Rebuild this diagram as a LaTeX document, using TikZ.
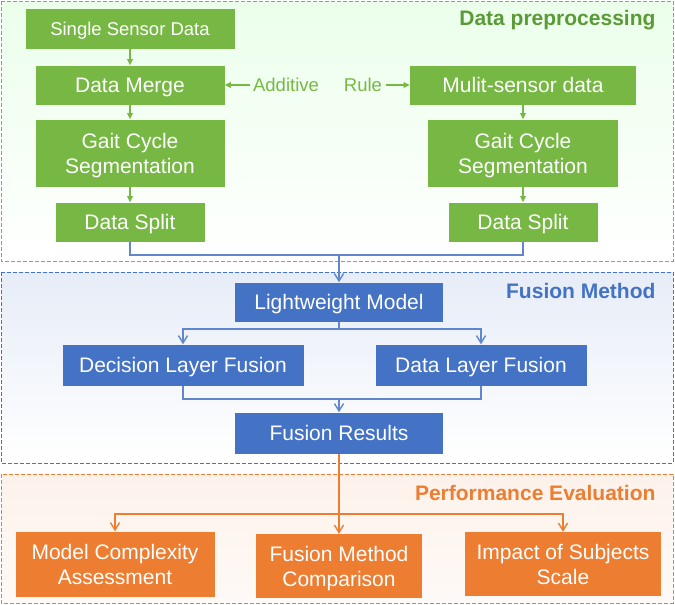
\documentclass[tikz,border=0pt]{standalone}
\usepackage{fontspec}
\setmainfont{Liberation Sans}
\usepackage{xcolor}
\usetikzlibrary{arrows.meta,positioning,calc}
\definecolor{grnfill}{HTML}{76B843}
\definecolor{grndark}{HTML}{5B9A36}
\definecolor{bluefill}{HTML}{4472C4}
\definecolor{orgfill}{HTML}{ED7D31}
\tikzset{
  gbox/.style   = {fill=grnfill, text=white, inner sep=0pt, align=center,
                   text depth=0pt, font=\fontsize{21}{25}\selectfont},
  bbox/.style   = {gbox, fill=bluefill},
  obox/.style   = {gbox, fill=orgfill},
  gsig/.style   = {-{Triangle[length=2.2mm,width=2mm]}, draw=grnfill, line width=1.2pt},
  bline/.style  = {draw=bluefill!85, line width=1.4pt},
  bsig/.style   = {bline, -{Straight Barb[length=2.6mm,width=3.2mm]}},
  osig/.style   = {draw=orgfill, line width=1.4pt, -{Straight Barb[length=2.6mm,width=3.2mm]}},
  region/.style = {dash pattern=on 4pt off 2pt, line width=1pt},
  title/.style  = {anchor=east, font=\bfseries\fontsize{21}{24}\selectfont},
}

\begin{document}
\begin{tikzpicture}[x=1pt,y=-1pt]
\useasboundingbox (0,0) rectangle (675,605);
% backgrounds
\shade[top color=green!8, bottom color=white] (1,1) rectangle (673,261);
\draw[region, draw=grnfill] (1,1) rectangle (673,261);
\shade[top color=bluefill!13, bottom color=white] (1,272) rectangle (673,463);
\draw[region, draw=bluefill] (1,272) rectangle (673,463);
\shade[top color=orgfill!10, bottom color=orgfill!4] (1,474) rectangle (673,603);
\draw[region, draw=orgfill] (1,474) rectangle (673,603);

\node[title, text=grndark] (t1) at (659,20) {Data preprocessing};
\node[title, text=bluefill] (t2) at (659,291) {Fusion Method};
\node[title, text=orgfill] (t3) at (659,493) {Performance Evaluation};

% data preprocessing
\node[gbox, minimum width=209, minimum height=40, font=\fontsize{18.5}{22}\selectfont] (ssd) at (130,29) {Single Sensor Data};
\node[gbox, minimum width=189, minimum height=39] (merge) at (130,85) {Data Merge};
\node[gbox, minimum width=189, minimum height=67] (gcl) at (130,153) {Gait Cycle\\Segmentation};
\node[gbox, minimum width=149, minimum height=39] (dsl) at (130,222) {Data Split};
\node[gbox, minimum width=226, minimum height=39] (msd) at (523,85) {Mulit-sensor data};
\node[gbox, minimum width=190, minimum height=67] (gcr) at (523,153) {Gait Cycle\\Segmentation};
\node[gbox, minimum width=149, minimum height=39] (dsr) at (523,222) {Data Split};
\node[text=grnfill, font=\fontsize{18.5}{22}\selectfont] (add) at (286,85) {Additive};
\node[text=grnfill, font=\fontsize{18.5}{22}\selectfont] (rule) at (363,85) {Rule};

\draw[gsig] (ssd) -- (merge);
\draw[gsig] (merge) -- (gcl);
\draw[gsig] (gcl) -- (dsl);
\draw[gsig] (msd) -- (gcr);
\draw[gsig] (gcr) -- (dsr);
\draw[gsig] (add.west) -- (merge.east);
\draw[gsig] (rule.east) -- (msd.west);

% fusion method
\node[bbox, minimum width=208, minimum height=39] (lw) at (339,302) {Lightweight Model};
\node[bbox, minimum width=241, minimum height=41] (dec) at (183,365) {Decision Layer Fusion};
\node[bbox, minimum width=211, minimum height=41] (dlf) at (481,365) {Data Layer Fusion};
\node[bbox, minimum width=208, minimum height=41] (res) at (339,433) {Fusion Results};

\coordinate (j1) at (339,255);
\draw[bline] (dsl.south) |- (j1);
\draw[bline] (dsr.south) |- (j1);
\draw[bsig] (j1) -- (lw.north);
\coordinate (b1) at (339,329);
\draw[bsig] (lw.south) -- (b1) -| (dec.north);
\draw[bsig] (b1) -| (dlf.north);
\coordinate (m1) at (339,399);
\draw[bline] (dec.south) |- (m1);
\draw[bline] (dlf.south) |- (m1);
\draw[bsig] (m1) -- (res.north);

% performance evaluation
\node[obox, minimum width=199, minimum height=65] (mca) at (115,564) {Model Complexity\\Assessment};
\node[obox, minimum width=166, minimum height=64] (fmc) at (339,566) {Fusion Method\\Comparison};
\node[obox, minimum width=196, minimum height=64] (iss) at (563,564) {Impact of Subjects\\Scale};

\coordinate (o1) at (339,514);
\draw[osig] (res.south) -- (fmc.north);
\draw[osig] (o1) -| (mca.north);
\draw[osig] (o1) -| (iss.north);
\end{tikzpicture}
\end{document}
